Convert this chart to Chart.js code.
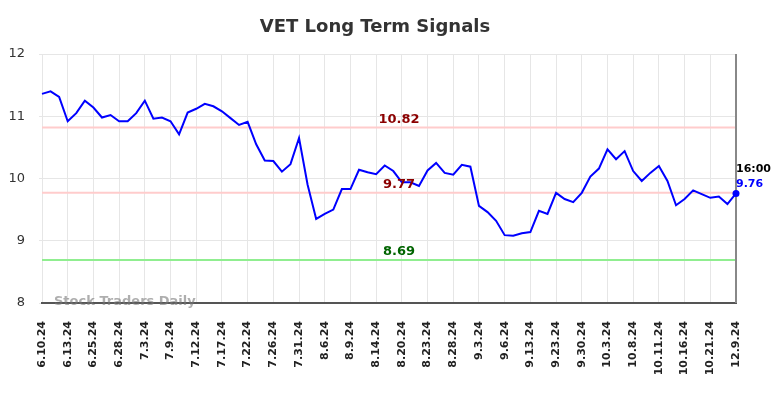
<!DOCTYPE html>
<html>
<head>
<meta charset="utf-8">
<script src="https://cdn.jsdelivr.net/npm/chart.js@4.4.1/dist/chart.umd.min.js"></script>
<style>
  body { margin: 0; background: #fff; }
  #wrap { width: 784px; height: 398px; }
</style>
</head>
<body>
<div id="wrap"><canvas id="signalChart"></canvas></div>
<script>
// VET long term signals - data
const tickLabels = ['6.10.24', '6.13.24', '6.25.24', '6.28.24', '7.3.24', '7.9.24', '7.12.24',
    '7.17.24', '7.22.24', '7.26.24', '7.31.24', '8.6.24', '8.9.24', '8.14.24', '8.20.24',
    '8.23.24', '8.28.24', '9.3.24', '9.6.24', '9.13.24', '9.23.24', '9.30.24', '10.3.24',
    '10.8.24', '10.11.24', '10.16.24', '10.21.24', '12.9.24'];

const prices = [
    11.36, 11.40, 11.31, 10.92, 11.05, 11.25, 11.14, 10.98, 11.02, 10.92,
    10.92, 11.05, 11.25, 10.96, 10.98, 10.92, 10.71, 11.06, 11.12, 11.20,
    11.16, 11.08, 10.97, 10.86, 10.91, 10.55, 10.29, 10.28, 10.11, 10.23,
    10.65, 9.90, 9.35, 9.43, 9.50, 9.83, 9.83, 10.14, 10.10, 10.07,
    10.21, 10.12, 9.94, 9.94, 9.88, 10.13, 10.25, 10.09, 10.06, 10.22,
    10.19, 9.56, 9.46, 9.32, 9.09, 9.08, 9.12, 9.14, 9.48, 9.43,
    9.77, 9.67, 9.62, 9.77, 10.03, 10.16, 10.47, 10.31, 10.44, 10.12,
    9.96, 10.09, 10.20, 9.96, 9.57, 9.67, 9.81, 9.75, 9.69, 9.71,
    9.59, 9.76
];

const resistanceLevels = [10.82, 9.77];
const supportLevels = [8.69];
const lastTime = '16:00';
const lastPrice = 9.76;
const yTicks = [8, 9, 10, 11, 12];
const titleText = 'VET Long Term Signals';

// one tick label every third session
const categories = prices.map((p, i) => (i % 3 === 0 ? tickLabels[i / 3] : ''));

// title, levels, watermark and last price label
const signalsPlugin = {
    id: 'signals',
    beforeDatasetsDraw(chart) {
        const { ctx, chartArea, scales } = chart;
        ctx.save();

        // title
        ctx.font = 'bold 18px "DejaVu Sans", sans-serif';
        ctx.fillStyle = '#333';
        ctx.textAlign = 'center';
        ctx.textBaseline = 'middle';
        ctx.fillText(titleText, 375, 27);

        ctx.lineWidth = 2;
        resistanceLevels.forEach(v => {
            const y = scales.y.getPixelForValue(v);
            ctx.strokeStyle = '#ffcccc';
            ctx.beginPath();
            ctx.moveTo(chartArea.left, y);
            ctx.lineTo(chartArea.right, y);
            ctx.stroke();
        });
        supportLevels.forEach(v => {
            const y = scales.y.getPixelForValue(v);
            ctx.strokeStyle = '#90ee90';
            ctx.beginPath();
            ctx.moveTo(chartArea.left, y);
            ctx.lineTo(chartArea.right, y);
            ctx.stroke();
        });

        // right edge marker at the last session
        ctx.strokeStyle = '#888';
        ctx.beginPath();
        ctx.moveTo(chartArea.right, chartArea.top);
        ctx.lineTo(chartArea.right, chartArea.bottom);
        ctx.stroke();

        // watermark
        ctx.font = 'bold 13px "DejaVu Sans", sans-serif';
        ctx.fillStyle = 'rgba(120, 120, 120, 0.6)';
        ctx.textAlign = 'left';
        ctx.fillText('Stock Traders Daily', chartArea.left + 12, chartArea.bottom - 1);
        ctx.restore();
    },
    afterDatasetsDraw(chart) {
        const { ctx, chartArea, scales } = chart;
        const mid = (chartArea.left + chartArea.right) / 2;
        ctx.save();
        ctx.font = 'bold 13px "DejaVu Sans", sans-serif';
        ctx.textAlign = 'center';
        ctx.textBaseline = 'middle';
        resistanceLevels.forEach(v => {
            const y = scales.y.getPixelForValue(v);
            ctx.fillStyle = '#8b0000';
            ctx.fillText(v.toFixed(2), mid + 10, y - 8);
        });
        supportLevels.forEach(v => {
            const y = scales.y.getPixelForValue(v);
            ctx.fillStyle = '#006400';
            ctx.fillText(v.toFixed(2), mid + 10, y - 8);
        });

        const lx = scales.x.getPixelForValue(prices.length - 1);
        const ly = scales.y.getPixelForValue(lastPrice);
        ctx.font = 'bold 11px "DejaVu Sans", sans-serif';
        ctx.textAlign = 'left';
        ctx.fillStyle = '#000';
        ctx.fillText(lastTime, lx, ly - 24);
        ctx.fillStyle = '#0000ff';
        ctx.fillText(lastPrice.toFixed(2), lx, ly - 9);
        ctx.restore();
    }
};

const chartCtx = document.getElementById('signalChart');
new Chart(chartCtx, {
    type: 'line',
    data: {
        labels: categories,
        datasets: [{
            label: 'VET',
            data: prices,
            borderColor: '#0000ff',
            borderWidth: 2,
            tension: 0,
            fill: false,
            pointRadius: ctx => (ctx.dataIndex === prices.length - 1 ? 3.5 : 0),
            pointBackgroundColor: '#0000ff',
            pointBorderWidth: 0
        }]
    },
    options: {
        responsive: true,
        maintainAspectRatio: false,
        animation: false,
        layout: { padding: { left: 0, right: 48, top: 54, bottom: 0 } },
        plugins: {
            legend: { display: false },
            tooltip: { enabled: false },
            title: { display: false }
        },
        scales: {
            x: {
                offset: false,
                afterFit(scale) { scale.height = 95; },
                grid: { drawTicks: false, color: '#e6e6e6' },
                border: { color: '#555', width: 2 },
                ticks: {
                    autoSkip: false,
                    maxRotation: 90,
                    minRotation: 90,
                    padding: 18,
                    color: '#222',
                    font: { size: 11, weight: 'bold', family: '"DejaVu Sans", sans-serif' },
                    callback: (val, i) => (i % 3 === 0 ? categories[i] : null)
                }
            },
            y: {
                min: 8,
                max: 12,
                afterFit(scale) { scale.width = 42; },
                afterBuildTicks(scale) { scale.ticks = yTicks.map(v => ({ value: v })); },
                grid: { color: '#e6e6e6', tickLength: 3 },
                border: { display: false },
                ticks: {
                    padding: 14,
                    color: '#333',
                    font: { size: 13, family: '"DejaVu Sans", sans-serif' }
                }
            }
        }
    },
    plugins: [signalsPlugin]
});
</script>
</body>
</html>
